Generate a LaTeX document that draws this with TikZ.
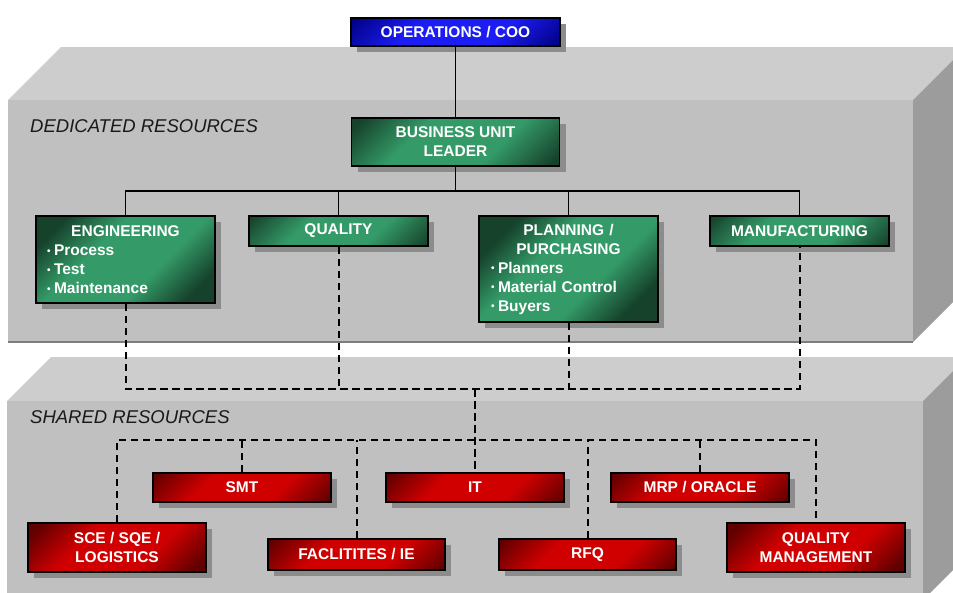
\documentclass[tikz,border=0pt]{standalone}
\usepackage{fontspec}
\setmainfont{Liberation Sans}
\usetikzlibrary{shadows,calc}
\definecolor{gdark}{RGB}{22,66,44}
\definecolor{glight}{RGB}{52,155,104}
\definecolor{rdark}{RGB}{96,0,0}
\definecolor{rlight}{RGB}{208,0,0}
\definecolor{bdark}{RGB}{0,0,130}
\definecolor{blight}{RGB}{28,28,245}
\definecolor{topface}{RGB}{205,205,205}
\definecolor{frontface}{RGB}{192,192,192}
\definecolor{sideface}{RGB}{156,156,156}
\definecolor{edgeline}{RGB}{125,125,125}
\definecolor{shadowc}{RGB}{140,140,140}
\pgfdeclareverticalshading{greenshade}{100bp}{color(0bp)=(gdark); color(30bp)=(gdark); color(42bp)=(glight); color(58bp)=(glight); color(70bp)=(gdark); color(100bp)=(gdark)}
\pgfdeclareverticalshading{redshade}{100bp}{color(0bp)=(rdark); color(30bp)=(rdark); color(42bp)=(rlight); color(58bp)=(rlight); color(70bp)=(rdark); color(100bp)=(rdark)}
\pgfdeclareverticalshading{blueshade}{100bp}{color(0bp)=(bdark); color(30bp)=(bdark); color(42bp)=(blight); color(58bp)=(blight); color(70bp)=(bdark); color(100bp)=(bdark)}
\newcommand\itembul{\raisebox{1.2pt}{\fontsize{10}{10}\selectfont\textbullet}\hspace{3.5pt}}
\tikzset{
  gradfill/.style={path picture={
    \shade[shading=#1, shading angle=45]
      let \p1=(path picture bounding box.south west), \p2=(path picture bounding box.north east), \n1={(\x2-\x1)/2}
      in ($(path picture bounding box.center)+(-\n1,-\n1)$) rectangle ($(path picture bounding box.center)+(\n1,\n1)$);
  }},
  box/.style={draw=black, line width=1.8pt, inner sep=0pt, text=white, align=center,
    font=\bfseries\fontsize{15.5}{19}\selectfont,
    drop shadow={shadow xshift=6pt, shadow yshift=-6pt, opacity=1, fill=shadowc, draw=none}},
  greenbox/.style={box, gradfill=greenshade},
  redbox/.style={box, gradfill=redshade},
  bluebox/.style={box, gradfill=blueshade},
  conn/.style={draw=black, line width=1.8pt},
  dashconn/.style={draw=black, line width=2pt, dash pattern=on 7.5pt off 4.5pt},
  panellabel/.style={anchor=base west, inner sep=0pt, font=\itshape\fontsize{18.5}{22}\selectfont, text=black!90}
}
\begin{document}
\begin{tikzpicture}[x=1pt,y=-1pt]
\useasboundingbox (0,0) rectangle (953,592);
\begin{scope}
\clip (0,0) rectangle (953,592);
% dedicated resources panel
\fill[topface] (8,100) -- (61,47) -- (966,47) -- (913,100) -- cycle;
\fill[frontface] (8,100) rectangle (913,342);
\fill[sideface] (913,100) -- (966,47) -- (966,289) -- (913,342) -- cycle;
\draw[edgeline, line width=2pt] (8,342) -- (913,342);
% shared resources panel
\fill[topface] (7,401) -- (51,357) -- (967,357) -- (923,401) -- cycle;
\fill[frontface] (7,401) rectangle (923,600);
\fill[sideface] (923,401) -- (967,357) -- (967,556) -- (923,600) -- cycle;
\end{scope}

\node[panellabel] (dedlabel) at (30,132) {DEDICATED RESOURCES};
\node[panellabel] (shlabel) at (30,423) {SHARED RESOURCES};

% top boxes
\node[bluebox, minimum width=209pt, minimum height=28pt] (ops) at (455.5,32) {OPERATIONS / COO};
\node[greenbox, minimum width=208pt, minimum height=48pt] (bul) at (455.5,142) {BUSINESS UNIT\\LEADER};

% dedicated boxes
\node[greenbox, minimum width=179pt, minimum height=87pt, text width=157pt, align=left] (eng) at (125.5,259.5)
  {{\centering ENGINEERING\par}\itembul Process\\\itembul Test\\\itembul Maintenance};
\node[greenbox, minimum width=179pt, minimum height=30pt] (qual) at (338.5,231) {QUALITY};
\node[greenbox, minimum width=179pt, minimum height=106pt, text width=155pt, align=left] (plan) at (568.5,269)
  {{\centering PLANNING /\\PURCHASING\par}\itembul Planners\\\itembul Material Control\\\itembul Buyers};
\node[greenbox, minimum width=179pt, minimum height=30pt] (mfg) at (799.5,231) {MANUFACTURING};

% shared boxes
\node[redbox, minimum width=178pt, minimum height=49pt] (sce) at (117,547.5) {SCE / SQE /\\LOGISTICS};
\node[redbox, minimum width=178pt, minimum height=29pt] (smt) at (242,487.5) {SMT};
\node[redbox, minimum width=177pt, minimum height=31pt] (fac) at (356.5,554.5) {FACLITITES / IE};
\node[redbox, minimum width=178pt, minimum height=29pt] (it) at (475,487.5) {IT};
\node[redbox, minimum width=177pt, minimum height=31pt] (rfq) at (587.5,554.5) {RFQ};
\node[redbox, minimum width=178pt, minimum height=29pt] (mrp) at (700,487.5) {MRP / ORACLE};
\node[redbox, minimum width=178pt, minimum height=49pt] (qm) at (816,547.5) {QUALITY\\MANAGEMENT};

% solid connectors
\coordinate (hub) at (455.5,191);
\draw[conn] (ops.south) -- (bul.north);
\draw[conn] (bul.south) -- (hub);
\draw[conn] (eng.north) |- (mfg.north |- hub) -- (mfg.north);
\draw[conn] (qual.north) -- (qual.north |- hub);
\draw[conn] (plan.north) -- (plan.north |- hub);

% dashed connectors
\coordinate (dj) at (475,389);
\coordinate (sj) at (475,440);
\draw[dashconn] (eng.south) |- (mfg.south |- dj) -- (mfg.south);
\draw[dashconn] (qual.south) -- (qual.south |- dj);
\draw[dashconn] (plan.south) -- (plan.south |- dj);
\draw[dashconn] (dj) -- (it.north);
\draw[dashconn] (sce.north) |- (qm.north |- sj) -- (qm.north);
\draw[dashconn] (smt.north) -- (smt.north |- sj);
\draw[dashconn] (fac.north) -- (fac.north |- sj);
\draw[dashconn] (rfq.north) -- (rfq.north |- sj);
\draw[dashconn] (mrp.north) -- (mrp.north |- sj);
\end{tikzpicture}
\end{document}
